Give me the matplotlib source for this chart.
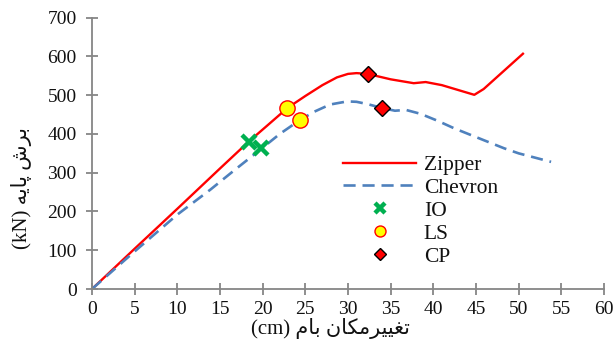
import matplotlib
matplotlib.use("Agg")
import matplotlib.pyplot as plt

# Pushover curves: roof displacement (cm) vs base shear (kN)
zipper_x = [0, 5, 10, 15, 18.35, 20.5, 22.9, 25, 27, 28.7, 30, 31, 32.3, 35, 37.7, 39.1, 41, 44.8, 45.9, 50.5]
zipper_y = [0, 104, 207, 311, 380, 421, 467, 498, 526, 546, 555, 557, 555, 541, 531, 534, 526, 501, 516, 607]

chevron_x = [0, 5, 10, 13.85, 16.6, 19.8, 22, 24.3, 26, 27.9, 29.9, 31, 32.3, 34, 35.5, 36.8, 38.5, 40.5, 42.4, 45, 48.3, 50, 53.8]
chevron_y = [0, 97, 192, 256, 305, 361, 400, 435, 457, 476, 484, 483, 477, 467, 460, 462, 452, 434, 415, 392, 363, 350, 328]

# Performance levels
io_x = [18.35, 19.8]
io_y = [380, 364]
ls_x = [22.9, 24.35]
ls_y = [467, 435]
cp_x = [32.3, 34.0]
cp_y = [555, 466]

x_ticks = list(range(0, 61, 5))
y_ticks = list(range(0, 701, 100))

# Persian labels written in shaped, visual (left-to-right) order
x_label = "(cm) " + "\uFEE1\uFE8E\uFE91" + " " + "\uFEE5\uFE8E\uFEDC\uFEE3\uFEAE\uFEF4\uFEF4\uFED0\uFE97"
y_label = "(kN) " + "\uFEEA\uFEF3\uFE8E\uFB58" + " " + "\uFEB5\uFEAE\uFE91"

serif = ["Liberation Serif", "DejaVu Sans"]
plt.rcParams["font.family"] = serif

fig = plt.figure(figsize=(6.14, 3.49), dpi=100)
ax = fig.add_axes([92 / 614, 1 - 289 / 349, 512 / 614, 271.3 / 349])

ax.plot(zipper_x, zipper_y, color="#FF0000", lw=1.7, label="Zipper", zorder=2)
ax.plot(chevron_x, chevron_y, color="#4F81BD", lw=1.9, dashes=(4.6, 2.6),
        label="Chevron", zorder=2)

ax.plot(io_x, io_y, ls="none", marker="x", ms=10, mfc="#00B050", mec="#00B050",
        mew=3.2, label="IO", zorder=4)
ax.plot(ls_x, ls_y, ls="none", marker="o", ms=11, mfc="#FFFF00", mec="#FF0000",
        mew=1.0, label="LS", zorder=4)
ax.plot(cp_x, cp_y, ls="none", marker="D", ms=8.5, mfc="#FF0000", mec="#000000",
        mew=1.0, label="CP", zorder=4)

ax.set_xlim(0, 60)
ax.set_ylim(0, 700)
ax.set_xticks(x_ticks)
ax.set_yticks(y_ticks)

for side in ("top", "right"):
    ax.spines[side].set_visible(False)
for side in ("left", "bottom"):
    ax.spines[side].set_color("#868686")
    ax.spines[side].set_linewidth(1.3)
ax.tick_params(direction="inout", length=8, width=1.3, color="#868686",
               labelsize=14, labelcolor="#111111")
ax.tick_params(axis="x", pad=5)
ax.tick_params(axis="y", pad=7)
for lab in ax.get_xticklabels() + ax.get_yticklabels():
    lab.set_family(serif)

handles, labels = ax.get_legend_handles_labels()
leg = ax.legend(handles, labels, loc="upper left",
                bbox_to_anchor=((343 - 92) / 512, (289 - 155) / 271.3),
                frameon=False, fontsize=15.5, handlelength=3.4, handletextpad=0.35,
                labelspacing=0.13, borderpad=0, borderaxespad=0, markerscale=0.72)
for t in leg.get_texts():
    t.set_family(serif)
    t.set_color("#111111")

fig.text(330 / 614, 1 - 318 / 349, x_label, ha="center", va="top",
         fontsize=15, family=serif, color="#111111")
fig.text(22 / 614, 1 - 188 / 349, y_label, ha="center", va="center",
         rotation=90, fontsize=15, family=serif, color="#111111")

fig.savefig("out.png", dpi=100)
